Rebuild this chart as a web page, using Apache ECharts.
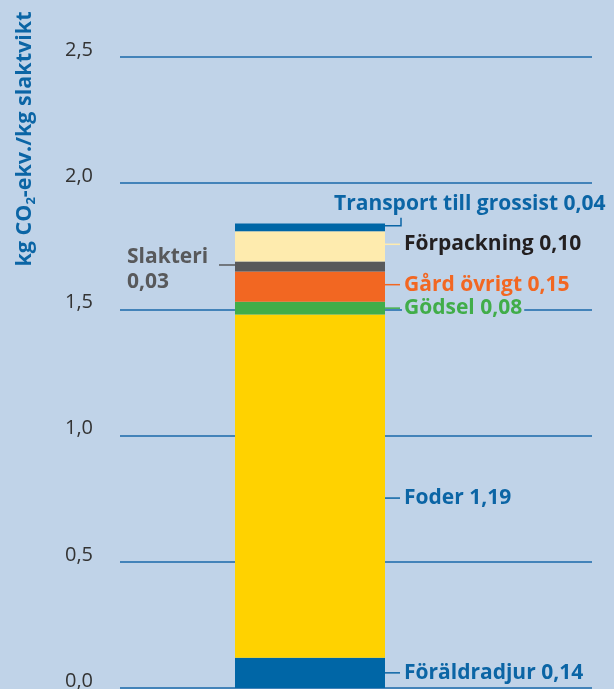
<!DOCTYPE html>
<html>
<head>
<meta charset="utf-8">
<script src="https://cdn.jsdelivr.net/npm/echarts@6/dist/echarts.min.js"></script>
<style>
  html, body { margin: 0; padding: 0; background: #c0d3e8; }
  #chart { width: 614px; height: 689px; }
</style>
</head>
<body>
<div id="chart"></div>
<script>
// one stacked column, bottom to top
const column = [""];
const parts = ["Föräldradjur", "Foder", "Gödsel", "Gård övrigt", "Slakteri", "Förpackning", "Transport till grossist"];
// heights as drawn in the picture
const barValues = [0.12, 1.36, 0.05, 0.12, 0.04, 0.12, 0.03];
// numbers printed next to the column
const printedValues = ["0,14", "1,19", "0,08", "0,15", "0,03", "0,10", "0,04"];

const yMin = 0, yMax = 2.5, yStep = 0.5;

const bg = "#c0d3e8";
const barColors = ["#0066a6", "#ffd200", "#41ad49", "#f26722", "#58595b", "#feebae", "#0066a6"];
const textColors = ["#0b65a5", "#0b65a5", "#41ad49", "#f26722", "#58595b", "#231f20", "#0b65a5"];
const leaderColors = ["#0b65a5", "#0b65a5", "#41ad49", "#f26722", "#58595b", "#feebae", "#0b65a5"];
const labelShift = [0, 12, 0, -2, 0, -2, 0];

const font = "'Open Sans', 'Noto Sans', sans-serif";
const BAR_W = 150;

const series = parts.map((name, i) => ({
  name: name,
  type: "bar",
  stack: "total",
  xAxisIndex: 1,
  yAxisIndex: 1,
  barWidth: BAR_W,
  data: [barValues[i]],
  itemStyle: { color: barColors[i] },
  emphasis: { disabled: true },
  animation: false
}));

// segment start/end for the label layer
let acc = 0;
const segments = barValues.map((v, i) => {
  const s = [0, acc, acc + v, i];
  acc += v;
  return s;
});

const textStyle = (i, extra) => Object.assign({
  fill: textColors[i],
  fontSize: 21,
  fontWeight: "bold",
  fontFamily: font
}, extra);

const renderLabel = (params, api) => {
  const i = api.value(3);
  const mid = api.coord([api.value(0), (api.value(1) + api.value(2)) / 2]);
  const right = mid[0] + BAR_W / 2;
  const left = mid[0] - BAR_W / 2;
  const lineStyle = { stroke: leaderColors[i], lineWidth: 1.5 };
  const label = parts[i] + " " + printedValues[i];

  if (i == 4) {
    // Slakteri: left side, two lines
    const y = mid[1] - 1.5;
    return {
      type: "group",
      children: [
        { type: "line", shape: { x1: left - 16, y1: y, x2: left, y2: y }, style: lineStyle },
        {
          type: "text",
          style: textStyle(i, {
            text: parts[i] + "\n" + printedValues[i],
            x: left - 108, y: mid[1] + 3.5,
            align: "left", verticalAlign: "middle", lineHeight: 25
          })
        }
      ]
    };
  }
  if (i == 6) {
    // Transport: lifted above the column with a small bracket
    const y = mid[1] - 1.7;
    return {
      type: "group",
      children: [
        {
          type: "polyline",
          shape: { points: [[right, y], [right + 16, y], [right + 16, y - 8]] },
          style: Object.assign({ fill: null }, lineStyle)
        },
        {
          type: "text",
          style: textStyle(i, {
            text: label,
            x: right - 51, y: mid[1] - 23.5,
            align: "left", verticalAlign: "middle"
          })
        }
      ]
    };
  }
  const y = mid[1] + labelShift[i];
  const extra = { text: label, x: right + 19, y: y, align: "left", verticalAlign: "middle" };
  if (i == 2) {
    // Gödsel sits on the 1,5 line, keep the line behind the text
    extra.backgroundColor = bg;
    extra.padding = [0, 2, 0, 2];
    extra.x = right + 17;
  }
  return {
    type: "group",
    children: [
      { type: "line", shape: { x1: right, y1: y, x2: right + 15, y2: y }, style: lineStyle },
      { type: "text", style: textStyle(i, extra) }
    ]
  };
};

series.push({
  type: "custom",
  xAxisIndex: 1,
  yAxisIndex: 1,
  data: segments,
  renderItem: renderLabel,
  silent: true,
  z: 10,
  animation: false
});

const yCommon = {
  type: "value",
  min: yMin,
  max: yMax,
  interval: yStep
};

const option = {
  backgroundColor: bg,
  grid: [
    { left: 120, right: 22, top: 57, bottom: 1, outerBoundsMode: "none", containLabel: false },
    { left: 120, right: 114, top: 57, bottom: 1, outerBoundsMode: "none", containLabel: false }
  ],
  xAxis: [
    { type: "category", data: column, gridIndex: 0, show: false },
    { type: "category", data: column, gridIndex: 1, show: false }
  ],
  yAxis: [
    {
      ...yCommon,
      gridIndex: 0,
      axisLine: { show: false },
      axisTick: { show: false },
      axisLabel: {
        margin: 27,
        color: "#333333",
        fontSize: 20,
        fontFamily: font,
        verticalAlign: "bottom",
        lineHeight: 14,
        formatter: (v) => v.toFixed(1).replace(".", ",")
      },
      splitLine: { lineStyle: { color: "#1a68aa", width: 1.5 } }
    },
    { ...yCommon, gridIndex: 1, show: false, splitLine: { show: false } }
  ],
  graphic: [
    {
      type: "text",
      x: 24.5,
      y: 139,
      rotation: Math.PI / 2,
      style: {
        text: "{a|kg CO}{b|2}{a|-ekv./kg slaktvikt}",
        align: "center",
        verticalAlign: "middle",
        rich: {
          a: { fontSize: 21.5, fontWeight: "bold", fontFamily: font, fill: "#0b65a5", lineHeight: 26 },
          b: { fontSize: 13, fontWeight: "bold", fontFamily: font, fill: "#0b65a5", lineHeight: 26, verticalAlign: "bottom" }
        }
      }
    }
  ],
  series: series
};

const chart = echarts.init(document.getElementById("chart"));
chart.setOption(option);
</script>
</body>
</html>
